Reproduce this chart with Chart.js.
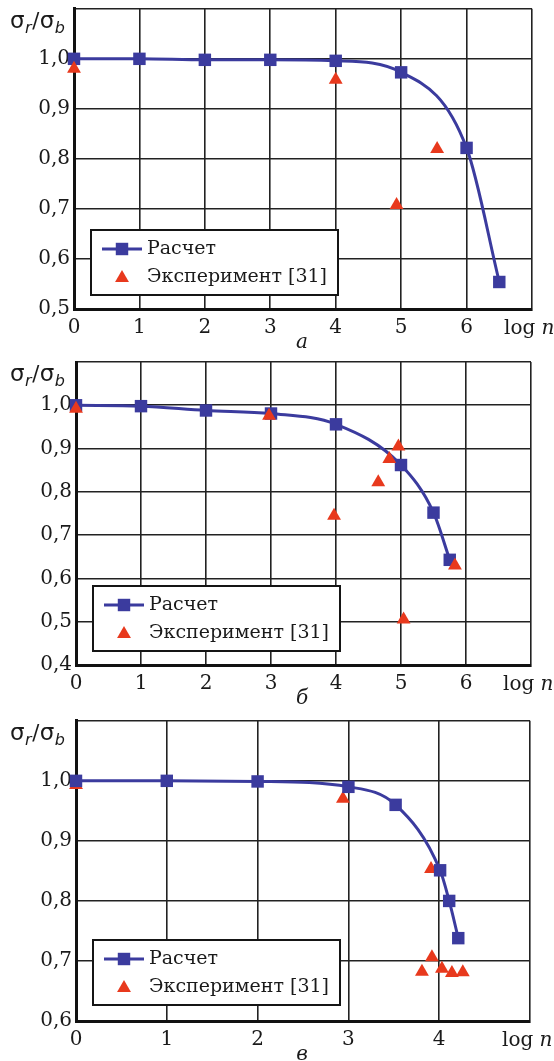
<!DOCTYPE html>
<html>
<head>
<meta charset="utf-8">
<script src="https://cdn.jsdelivr.net/npm/chart.js@4/dist/chart.umd.min.js"></script>
<style>
  html, body { margin: 0; padding: 0; background: #fff; }
  body { width: 554px; height: 1061px; position: relative; overflow: hidden; }
  canvas { position: absolute; left: 0; }
</style>
</head>
<body>
<canvas id="chartA" width="554" height="352" style="top:0px"></canvas>
<canvas id="chartB" width="554" height="360" style="top:352px"></canvas>
<canvas id="chartC" width="554" height="349" style="top:712px"></canvas>
<script>
// panel "а"
const calcA_x = [0, 1, 2, 3, 4, 5, 6, 6.5];
const calcA_y = [1.0, 1.0, 0.998, 0.998, 0.996, 0.973, 0.822, 0.554];
const expA_x = [0, 4, 4.93, 5.55];
const expA_y = [0.98, 0.958, 0.708, 0.82];

// panel "б"
const calcB_x = [0, 1, 2, 3, 4, 5, 5.5, 5.75];
const calcB_y = [1.0, 0.998, 0.988, 0.981, 0.956, 0.862, 0.752, 0.643];
const expB_x = [0, 2.97, 3.97, 4.65, 4.82, 4.96, 5.04, 5.83];
const expB_y = [0.992, 0.976, 0.745, 0.822, 0.876, 0.905, 0.505, 0.63];

// panel "в"
const calcC_x = [0, 1, 2, 3, 3.52, 4.01, 4.11, 4.21];
const calcC_y = [1.0, 1.0, 0.999, 0.99, 0.96, 0.851, 0.80, 0.738];
const expC_x = [0, 2.94, 3.91, 3.81, 3.92, 4.03, 4.14, 4.26];
const expC_y = [0.993, 0.97, 0.853, 0.682, 0.706, 0.687, 0.68, 0.681];

const seriesLabels = ['Расчет', 'Эксперимент [31]'];
const xAxisName = 'log ';
const xAxisVar = 'n';

const CALC_COLOR = '#3b3b9e';
const EXP_COLOR = '#e8391d';
const GRID_COLOR = '#222';
const TEXT_COLOR = '#1a1a1a';
const SERIF = '"DejaVu Serif", serif';

function toPoints(xs, ys) {
    return xs.map((x, i) => ({ x: x, y: ys[i] }));
}

// y-axis caption σr/σb with italic subscripts
function drawRatioLabel(ctx, x, y) {
    const parts = [
        { t: 'σ', font: '23px "DejaVu Sans"', dy: 0 },
        { t: 'r', font: 'italic 16px "DejaVu Sans"', dy: 5 },
        { t: '/', font: '21px "DejaVu Sans"', dy: 0 },
        { t: 'σ', font: '23px "DejaVu Sans"', dy: 0 },
        { t: 'b', font: 'italic 16px "DejaVu Sans"', dy: 5 }
    ];
    ctx.textAlign = 'left';
    ctx.textBaseline = 'alphabetic';
    ctx.fillStyle = TEXT_COLOR;
    let cx = x;
    parts.forEach(p => {
        ctx.font = p.font;
        ctx.fillText(p.t, cx, y + p.dy);
        cx += ctx.measureText(p.t).width + 0.5;
    });
}

const panelDecor = {
    id: 'panelDecor',
    afterDraw(chart, args, opts) {
        const ctx = chart.ctx;
        const area = chart.chartArea;
        const xScale = chart.scales.x;
        ctx.save();

        drawRatioLabel(ctx, 10, area.top + 19);

        // "log n" in place of the last x tick
        const labelY = area.bottom + 19.5;
        const lx = xScale.getPixelForValue(xScale.max) - 28;
        ctx.fillStyle = TEXT_COLOR;
        ctx.textBaseline = 'middle';
        ctx.textAlign = 'left';
        ctx.font = '20px ' + SERIF;
        ctx.fillText(xAxisName, lx, labelY);
        const w = ctx.measureText(xAxisName).width;
        ctx.font = 'italic 20px ' + SERIF;
        ctx.fillText(xAxisVar, lx + w, labelY);

        // panel letter
        ctx.font = 'italic 20px ' + SERIF;
        ctx.textAlign = 'center';
        ctx.fillText(opts.letter, 302, area.bottom + 34);

        // legend box
        const bw = 247, bh = 65;
        const bx = area.left + 17;
        const by = area.bottom - opts.legendGap - bh;
        ctx.fillStyle = '#fff';
        ctx.fillRect(bx, by, bw, bh);
        ctx.strokeStyle = '#151515';
        ctx.lineWidth = 2;
        ctx.strokeRect(bx, by, bw, bh);

        const calcSet = chart.data.datasets.find(d => d.showLine);
        const expSet = chart.data.datasets.find(d => !d.showLine);
        const r1 = by + 19, r2 = by + 47;
        ctx.strokeStyle = calcSet.borderColor;
        ctx.lineWidth = calcSet.borderWidth;
        ctx.beginPath();
        ctx.moveTo(bx + 11, r1);
        ctx.lineTo(bx + 51, r1);
        ctx.stroke();
        ctx.fillStyle = calcSet.backgroundColor;
        Chart.helpers.drawPoint(ctx, { pointStyle: 'rect', radius: calcSet.pointRadius, rotation: 0, borderWidth: 0 }, bx + 31, r1);
        ctx.fillStyle = expSet.backgroundColor;
        Chart.helpers.drawPoint(ctx, { pointStyle: 'triangle', radius: expSet.pointRadius, rotation: 0, borderWidth: 0 }, bx + 31, r2 + 1);

        ctx.fillStyle = TEXT_COLOR;
        ctx.font = '19px ' + SERIF;
        ctx.textAlign = 'left';
        ctx.textBaseline = 'middle';
        ctx.fillText(calcSet.label, bx + 56, r1);
        ctx.fillText(expSet.label, bx + 56, r2);

        ctx.restore();
    }
};

function makePanel(canvasId, calc, exp, cfg) {
    const canvas = document.getElementById(canvasId);
    const H = canvas.height;
    const area = cfg.area;
    return new Chart(canvas.getContext('2d'), {
        type: 'scatter',
        data: {
            datasets: [{
                label: seriesLabels[1],
                data: exp,
                showLine: false,
                pointStyle: 'triangle',
                pointRadius: 8,
                pointHoverRadius: 8,
                backgroundColor: EXP_COLOR,
                borderColor: EXP_COLOR,
                borderWidth: 0,
                order: cfg.expOnTop ? 0 : 2,
                clip: false
            }, {
                label: seriesLabels[0],
                data: calc,
                showLine: true,
                cubicInterpolationMode: 'monotone',
                pointStyle: 'rect',
                pointRadius: 8.8,
                pointHoverRadius: 8.8,
                pointBorderWidth: 0,
                backgroundColor: CALC_COLOR,
                borderColor: CALC_COLOR,
                borderWidth: 3,
                order: 1,
                clip: false
            }]
        },
        options: {
            responsive: false,
            animation: false,
            layout: {
                padding: { top: area.top, right: canvas.width - area.right, left: 0, bottom: 0 }
            },
            plugins: {
                legend: { display: false },
                tooltip: { enabled: false },
                panelDecor: { letter: cfg.letter, legendGap: cfg.legendGap }
            },
            scales: {
                x: {
                    type: 'linear',
                    min: 0,
                    max: cfg.xMax,
                    ticks: {
                        stepSize: 1,
                        padding: 7,
                        color: TEXT_COLOR,
                        font: { family: SERIF, size: 20 },
                        callback: (v) => v === cfg.xMax ? '' : String(v)
                    },
                    grid: { color: GRID_COLOR, lineWidth: 1.6, drawTicks: false },
                    border: { color: '#111', width: 3 },
                    afterFit: (s) => {
                        s.height = H - area.bottom;
                        s.paddingLeft = 0;
                        s.paddingRight = 0;
                    }
                },
                y: {
                    type: 'linear',
                    min: cfg.yMin,
                    max: 1.1,
                    ticks: {
                        stepSize: 0.1,
                        padding: 4,
                        color: TEXT_COLOR,
                        font: { family: SERIF, size: 20 },
                        callback: (v) => Math.abs(v - 1.1) < 1e-6 ? '' : v.toFixed(1).replace('.', ',')
                    },
                    grid: { color: GRID_COLOR, lineWidth: 1.6, drawTicks: false },
                    border: { color: '#111', width: 3 },
                    afterFit: (s) => {
                        s.width = area.left;
                        s.paddingTop = 0;
                        s.paddingBottom = 0;
                    }
                }
            }
        },
        plugins: [panelDecor]
    });
}

makePanel('chartA', toPoints(calcA_x, calcA_y), toPoints(expA_x, expA_y), {
    area: { left: 74, right: 532, top: 7, bottom: 309 },
    xMax: 7, yMin: 0.5, letter: 'а', legendGap: 14, expOnTop: true
});
makePanel('chartB', toPoints(calcB_x, calcB_y), toPoints(expB_x, expB_y), {
    area: { left: 76, right: 531, top: 10, bottom: 313 },
    xMax: 7, yMin: 0.4, letter: 'б', legendGap: 14, expOnTop: true
});
makePanel('chartC', toPoints(calcC_x, calcC_y), toPoints(expC_x, expC_y), {
    area: { left: 76, right: 530, top: 6, bottom: 309 },
    xMax: 5, yMin: 0.6, letter: 'в', legendGap: 16, expOnTop: false
});
</script>
</body>
</html>
